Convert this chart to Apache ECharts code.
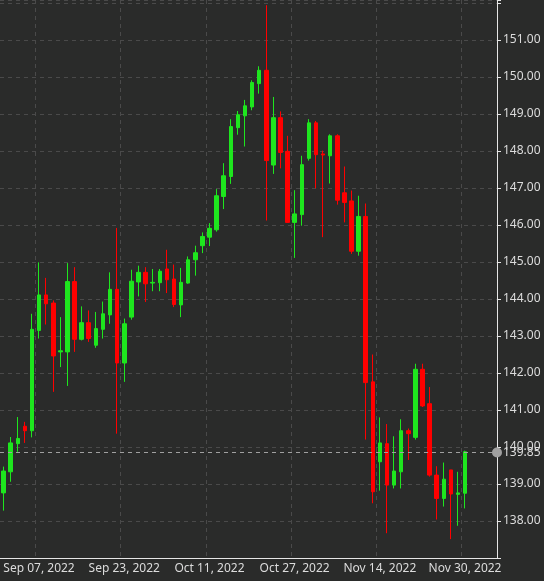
<!DOCTYPE html>
<html>
<head>
<meta charset="utf-8">
<script src="https://cdn.jsdelivr.net/npm/echarts@6/dist/echarts.min.js"></script>
<style>html,body{margin:0;padding:0;background:#2a2b2a}#main{width:544px;height:581px}</style>
</head>
<body>
<div id="main"></div>
<script>
var dates = ['Aug 31, 2022',
  'Sep 01, 2022','Sep 02, 2022','Sep 05, 2022','Sep 06, 2022','Sep 07, 2022','Sep 08, 2022','Sep 09, 2022','Sep 12, 2022','Sep 13, 2022','Sep 14, 2022','Sep 15, 2022','Sep 16, 2022','Sep 19, 2022','Sep 20, 2022','Sep 21, 2022','Sep 22, 2022','Sep 23, 2022','Sep 26, 2022','Sep 27, 2022','Sep 28, 2022','Sep 29, 2022','Sep 30, 2022',
  'Oct 03, 2022','Oct 04, 2022','Oct 05, 2022','Oct 06, 2022','Oct 07, 2022','Oct 10, 2022','Oct 11, 2022','Oct 12, 2022','Oct 13, 2022','Oct 14, 2022','Oct 17, 2022','Oct 18, 2022','Oct 19, 2022','Oct 20, 2022','Oct 21, 2022','Oct 24, 2022','Oct 25, 2022','Oct 26, 2022','Oct 27, 2022','Oct 28, 2022','Oct 31, 2022',
  'Nov 01, 2022','Nov 02, 2022','Nov 03, 2022','Nov 04, 2022','Nov 07, 2022','Nov 08, 2022','Nov 09, 2022','Nov 10, 2022','Nov 11, 2022','Nov 14, 2022','Nov 15, 2022','Nov 16, 2022','Nov 17, 2022','Nov 18, 2022','Nov 21, 2022','Nov 22, 2022','Nov 23, 2022','Nov 24, 2022','Nov 25, 2022','Nov 28, 2022','Nov 29, 2022','Nov 30, 2022',
  '', '', '', ''];

var opens  = [138.76,139.33,140.09,140.56,140.44,143.15,144.11,143.89,142.57,142.57,144.47,142.91,143.36,142.75,143.18,143.57,144.26,142.27,143.51,144.46,144.72,144.43,144.44,144.81,144.54,143.84,144.43,145.06,145.44,145.67,145.87,146.77,147.31,148.63,148.95,149.19,149.82,150.18,147.62,148.90,147.99,146.07,146.28,147.80,148.76,147.92,147.87,148.41,146.87,146.65,145.29,146.23,141.76,139.60,140.09,138.97,139.33,140.44,140.26,142.10,141.17,139.24,138.61,139.38,138.72,138.75];
var closes = [139.35,140.11,140.23,140.44,143.18,144.11,143.87,142.46,142.60,144.47,142.91,143.36,142.93,143.20,143.60,144.26,142.27,143.33,144.48,144.72,144.41,144.45,144.75,144.52,143.85,144.45,145.06,145.25,145.69,145.91,146.79,147.33,148.66,148.98,149.22,149.85,150.18,147.74,148.90,147.96,146.07,146.30,147.63,148.76,147.90,147.89,148.41,146.67,146.61,145.29,146.23,141.74,138.79,140.11,138.97,139.35,140.44,140.36,142.10,141.11,139.24,138.61,139.13,138.73,138.76,139.87];
var lows   = [138.28,139.06,139.87,140.11,140.26,142.93,143.31,141.49,142.16,141.65,142.57,142.88,142.84,142.68,142.93,143.33,140.36,141.76,143.44,144.07,143.92,144.21,144.21,144.16,143.78,143.51,144.41,144.63,145.24,145.43,145.82,146.43,147.11,148.44,148.12,149.10,149.55,146.12,147.38,147.53,146.07,145.11,145.98,147.74,146.99,145.67,147.12,146.55,146.07,145.22,145.17,140.20,138.48,138.82,137.67,138.88,138.88,139.65,140.20,141.08,139.20,138.04,138.39,137.51,137.87,138.34];
var highs  = [139.47,140.27,140.81,140.68,143.60,144.99,144.57,143.96,143.51,144.97,144.86,143.80,143.69,143.65,143.93,144.72,145.92,143.47,144.79,144.90,144.86,144.81,144.81,145.33,144.93,144.84,145.15,145.44,145.80,146.05,146.97,147.67,148.86,149.08,149.38,149.91,150.29,151.94,149.46,149.07,148.41,146.94,147.87,148.86,148.81,148.01,148.45,148.45,147.58,146.93,146.79,146.58,142.50,140.80,140.62,140.29,140.75,140.50,142.25,142.25,141.62,139.48,139.58,139.38,139.33,139.90];
var lastPrice = 139.85;
var labelEvery = 12, labelStart = 5;

var candles = opens.map(function (o, i) { return [o, closes[i], lows[i], highs[i]]; });
var showTick = function (i) { return i >= labelStart && (i - labelStart) % labelEvery === 0 && dates[i] !== ''; };

var chart = echarts.init(document.getElementById('main'));
chart.setOption({
  backgroundColor: '#2a2b2a',
  animation: false,
  grid: { left: 0, right: 47, top: 0, bottom: 23 },
  xAxis: {
    type: 'category',
    data: dates,
    boundaryGap: true,
    axisLine: { lineStyle: { color: '#e6e6e6' } },
    axisTick: { alignWithLabel: true, interval: showTick, lineStyle: { color: '#e6e6e6' }, length: 4 },
    axisLabel: { interval: showTick, color: '#dcdcdc', fontSize: 12, fontFamily: 'Noto Sans', margin: 5 },
    splitLine: { show: true, interval: showTick, lineStyle: { color: '#4a4a4a', type: [4, 4] } }
  },
  yAxis: {
    type: 'value',
    position: 'right',
    min: 137, max: 152.08, interval: 1,
    axisLine: { show: true, lineStyle: { color: '#e6e6e6' } },
    axisTick: { show: true, length: 4, lineStyle: { color: '#e6e6e6' } },
    axisLabel: {
      color: '#dcdcdc', fontSize: 12, fontFamily: 'Noto Sans', margin: 6,
      formatter: function (v) { return (v <= 137 || v >= 152) ? '' : v.toFixed(2); }
    },
    splitLine: { lineStyle: { color: '#4a4a4a', type: [4, 4] } }
  },
  series: [{
    type: 'candlestick',
    data: candles,
    barWidth: 4,
    itemStyle: { color: '#1ee61e', color0: '#ff0000', borderColor: '#1ee61e', borderColor0: '#ff0000', borderWidth: 1 },
    markLine: {
      silent: true,
      symbol: ['none', 'circle'],
      symbolSize: 10,
      data: [[{ yAxis: lastPrice, x: 0 }, { yAxis: lastPrice, x: 497 }]],
      lineStyle: { color: '#a0a0a0', type: [4, 4], width: 1 },
      itemStyle: { color: '#a0a0a0' },
      label: { show: true, position: 'end', formatter: lastPrice.toFixed(2), color: '#dcdcdc', fontSize: 12, fontFamily: 'Noto Sans', distance: 6 }
    }
  }]
});
</script>
</body>
</html>
